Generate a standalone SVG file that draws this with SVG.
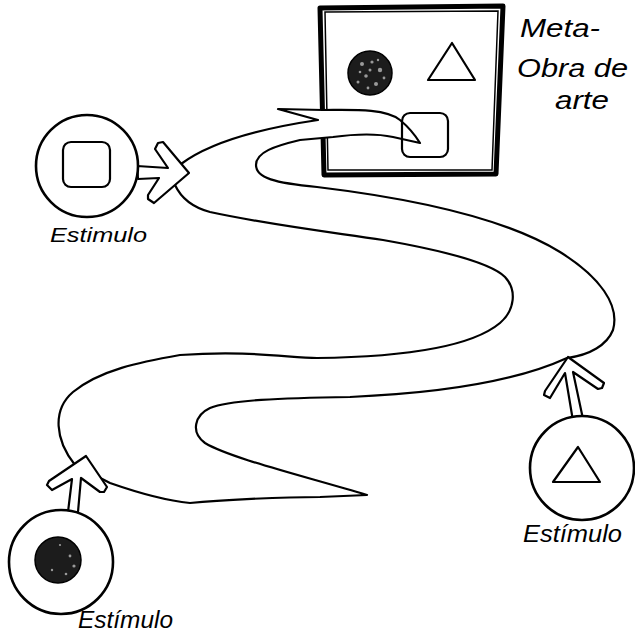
<svg xmlns="http://www.w3.org/2000/svg" width="635" height="633" viewBox="0 0 635 633">
<style>
.ln{fill:#fff;stroke:#000;stroke-width:2.2;stroke-linejoin:round;stroke-linecap:round}
.ci{fill:#fff;stroke:#000;stroke-width:2.6}
.sh{fill:none;stroke:#000;stroke-width:2.2;stroke-linejoin:round}
.dk{fill:#1c1c1c;stroke:#000;stroke-width:1.5}
.sp{fill:#9a9a9a}
.tx{font-family:"Liberation Sans","DejaVu Sans",sans-serif;font-style:italic;fill:#000}
</style>
<rect width="635" height="633" fill="#fff"/>
<g id="obra">
<polygon points="320,8 503,6 496,174 324,175" fill="#fff" stroke="#000" stroke-width="5" stroke-linejoin="round"/>
<polygon points="325,12 498,11 492,170 328,170" fill="none" stroke="#000" stroke-width="1.5"/>
<circle cx="370" cy="73" r="22" class="dk" fill="#333"/>
<g class="sp">
<circle cx="362" cy="64" r="2"/><circle cx="372" cy="62" r="1.6"/><circle cx="380" cy="70" r="2.2"/><circle cx="366" cy="76" r="1.8"/><circle cx="358" cy="82" r="1.5"/><circle cx="376" cy="84" r="2"/><circle cx="384" cy="78" r="1.4"/><circle cx="370" cy="70" r="1.5"/><circle cx="360" cy="72" r="1.3"/><circle cx="368" cy="88" r="1.4"/><circle cx="378" cy="60" r="1.2"/>
</g>
<polygon points="452,43 428,80 475,80" class="sh"/>
</g>
<g id="connectors">
<path class="ln" d="M181,164 C205,146 250,130 318,120 L278,109 L323,110 C350,110 385,108 400,120 Q412,130 420,143 L393,137 Q370,132 333,137 L300,140 C275,146 256,152 256,165 C256,178 275,183 317,187 C400,197 500,215 560,252 C600,277 620,305 613,330 C607,345 590,355 567,358 C530,375 470,392 350,397 C280,398 230,400 210,408 C195,415 190,432 205,443 C230,458 300,475 367,495 L320,497 C280,497 220,500 190,503 C160,500 130,490 110,483 L75,465 C55,440 52,410 73,392 C100,370 140,362 180,355 C250,350 290,358 317,358 C400,357 470,348 500,323 C515,310 517,290 505,277 C490,262 440,250 383,240 C330,232 270,225 210,212 C195,208 182,200 175,185 Z"/>
<polygon class="ln" points="137,166 168,168 155,149 158,143 163,142 189,173 154,203 148,199 148,195 159,178 138,179"/>
<polygon class="ln" points="68,512 72,479 52,490 47,485 49,481 86,456 107,487 104,492 100,492 81,478 78,512"/>
<polygon class="ln" points="573,421 565,373 550,398 544,395 545,391 568,357 604,383 602,388 598,389 573,372 583,419"/>
</g>
<g id="cuadrado-obra">
<rect x="402" y="113" width="46" height="44" rx="8" class="sh"/>
</g>
<g id="estimulo-cuadrado">
<circle cx="87" cy="166" r="51" class="ci"/>
<rect x="63" y="142" width="47" height="45" rx="8" class="sh"/>
<text class="tx" x="50" y="242" font-size="20" textLength="97" lengthAdjust="spacingAndGlyphs">Estimulo</text>
</g>
<g id="estimulo-circulo">
<circle cx="61" cy="562" r="52" class="ci"/>
<circle cx="58" cy="560" r="23" class="dk"/>
<g class="sp"><circle cx="70" cy="556" r="1.4"/><circle cx="74" cy="566" r="1.6"/><circle cx="66" cy="574" r="1.3"/><circle cx="60" cy="545" r="1.1"/><circle cx="52" cy="570" r="1.2"/></g>
<text class="tx" x="78" y="628" font-size="23" textLength="95" lengthAdjust="spacingAndGlyphs">Estímulo</text>
</g>
<g id="estimulo-triangulo">
<circle cx="582" cy="468" r="52" class="ci"/>
<polygon points="578,447 553,482 600,482" class="sh"/>
<text class="tx" x="523" y="542" font-size="24" textLength="99" lengthAdjust="spacingAndGlyphs">Estímulo</text>
</g>
<g id="etiqueta-obra">
<text class="tx" x="520" y="37" font-size="26" textLength="80" lengthAdjust="spacingAndGlyphs">Meta-</text>
<text class="tx" x="517" y="77" font-size="26" textLength="111" lengthAdjust="spacingAndGlyphs">Obra de</text>
<text class="tx" x="555" y="109" font-size="26" textLength="54" lengthAdjust="spacingAndGlyphs">arte</text>
</g>
</svg>
